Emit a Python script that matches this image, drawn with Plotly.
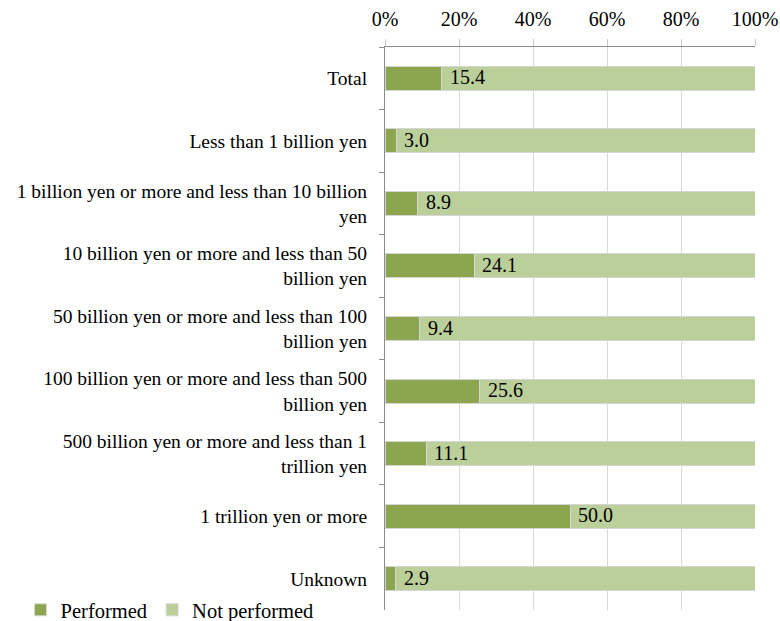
import plotly.graph_objects as go

categories = [
    "Total",
    "Less than 1 billion yen",
    "1 billion yen or more and less than 10 billion<br>yen",
    "10 billion yen or more and less than 50<br>billion yen",
    "50 billion yen or more and less than 100<br>billion yen",
    "100 billion yen or more and less than 500<br>billion yen",
    "500 billion yen or more and less than 1<br>trillion yen",
    "1 trillion yen or more",
    "Unknown",
]
performed = [15.4, 3.0, 8.9, 24.1, 9.4, 25.6, 11.1, 50.0, 2.9]
not_performed = [round(100 - v, 1) for v in performed]
x_ticks = [0, 20, 40, 60, 80, 100]
x_tick_labels = [f"{t}%" for t in x_ticks]

FONT = "Liberation Serif"
DARK = "#8ba64f"
LIGHT = "#bbcf9a"
EDGE = "#d6d6d6"
AXIS = "#8c8c8c"

fig = go.Figure()
fig.add_trace(go.Bar(
    y=categories, x=performed, orientation="h", name="Performed",
    marker=dict(color=DARK, line=dict(color=EDGE, width=1)),
    hoverinfo="skip",
))
fig.add_trace(go.Bar(
    y=categories, x=not_performed, orientation="h", name="Not performed",
    marker=dict(color=LIGHT, line=dict(color=EDGE, width=1)),
    hoverinfo="skip",
))

# value of the "Performed" share, written just right of its segment
for cat, v in zip(categories, performed):
    fig.add_annotation(
        x=v, y=cat, text=f"{v:.1f}", showarrow=False,
        xanchor="left", yanchor="middle", xshift=6, yshift=1,
        font=dict(family=FONT, size=20, color="#000000"),
    )

fig.update_layout(
    barmode="stack",
    bargap=0.615,
    width=780, height=621,
    margin=dict(l=385, r=25, t=47, b=11, autoexpand=False),
    paper_bgcolor="white", plot_bgcolor="white",
    font=dict(family=FONT, size=19.5, color="#000000"),
    legend=dict(
        orientation="h", x=-0.985, y=0.0, xanchor="left", yanchor="middle",
        font=dict(family=FONT, size=20.5), bgcolor="rgba(0,0,0,0)",
        itemwidth=30, traceorder="normal",
    ),
    xaxis=dict(
        side="top", range=[0, 100], tickvals=x_ticks, ticktext=x_tick_labels,
        showgrid=True, gridcolor="#d9d9d9", gridwidth=1,
        showline=True, linecolor=AXIS, linewidth=1,
        ticks="outside", ticklen=7, tickcolor="#c8c8c8",
        tickfont=dict(family=FONT, size=20), zeroline=False,
        ticklabelstandoff=5, fixedrange=True,
    ),
    yaxis=dict(
        autorange="reversed", type="category",
        showline=True, linecolor=AXIS, linewidth=1,
        ticks="outside", ticklen=5, tickcolor=AXIS,
        tickson="boundaries", showgrid=False,
        tickfont=dict(family=FONT, size=19.5), ticklabelstandoff=13,
        fixedrange=True,
    ),
)

fig.write_html("out.html")
